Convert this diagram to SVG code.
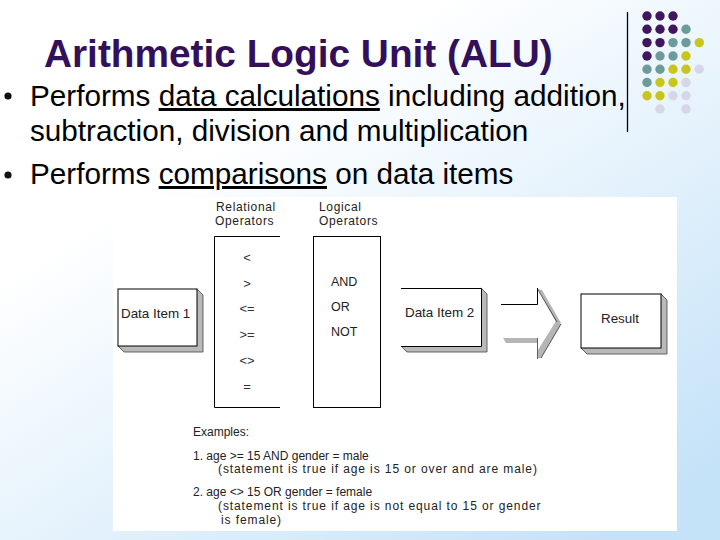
<svg xmlns="http://www.w3.org/2000/svg" width="720" height="540" viewBox="0 0 720 540">
<defs>
<linearGradient id="bg" x1="0" y1="0" x2="0.85" y2="1">
<stop offset="0.3" stop-color="#ffffff"/>
<stop offset="1" stop-color="#c4e2f8"/>
</linearGradient>
</defs>
<style>
.title{font-family:"Liberation Sans",Arial,sans-serif;font-weight:bold;font-size:38.8px;fill:#33105a}
.bul{font-family:"Liberation Sans",Arial,sans-serif;font-size:29.7px;fill:#000}
.sm{font-family:"Liberation Sans",Arial,sans-serif;font-size:13.4px;fill:#222}
.hd{font-family:"Liberation Sans",Arial,sans-serif;font-size:12px;fill:#222;letter-spacing:0.65px}
.lg{font-family:"Liberation Sans",Arial,sans-serif;font-size:12.5px;fill:#222}
.ex{font-family:"Liberation Sans",Arial,sans-serif;font-size:12px;fill:#222}
.st{font-family:"Liberation Sans",Arial,sans-serif;font-size:12px;fill:#222;letter-spacing:0.9px}
.op{font-family:"Liberation Sans",Arial,sans-serif;font-size:13px;fill:#333;text-anchor:middle}
.box{fill:#fff;stroke:#000;stroke-width:1}
.shadow{fill:#b9b9b9;stroke:#444;stroke-width:0.8}
.P{fill:#40175e}.T{fill:#6d9b9b}.Y{fill:#c9c61b}.L{fill:#d6d6e8}
</style>
<rect x="0" y="0" width="720" height="540" fill="url(#bg)"/>

<g id="dots">
<circle class="P" cx="647" cy="16" r="4.7"/><circle class="P" cx="660" cy="16" r="4.7"/><circle class="P" cx="673" cy="16" r="4.7"/>
<circle class="P" cx="647" cy="29.3" r="4.7"/><circle class="P" cx="660" cy="29.3" r="4.7"/><circle class="P" cx="673" cy="29.3" r="4.7"/><circle class="T" cx="686" cy="29.3" r="4.7"/>
<circle class="P" cx="647" cy="42.6" r="4.7"/><circle class="P" cx="660" cy="42.6" r="4.7"/><circle class="T" cx="673" cy="42.6" r="4.7"/><circle class="T" cx="686" cy="42.6" r="4.7"/><circle class="Y" cx="699.3" cy="42.6" r="4.7"/>
<circle class="P" cx="647" cy="56" r="4.7"/><circle class="T" cx="660" cy="56" r="4.7"/><circle class="T" cx="673" cy="56" r="4.7"/><circle class="Y" cx="686" cy="56" r="4.7"/>
<circle class="T" cx="647" cy="69.3" r="4.7"/><circle class="T" cx="660" cy="69.3" r="4.7"/><circle class="Y" cx="673" cy="69.3" r="4.7"/><circle class="Y" cx="686" cy="69.3" r="4.7"/><circle class="L" cx="699.3" cy="69.3" r="4.7"/>
<circle class="T" cx="647" cy="82.5" r="4.7"/><circle class="Y" cx="660" cy="82.5" r="4.7"/><circle class="Y" cx="673" cy="82.5" r="4.7"/><circle class="L" cx="686" cy="82.5" r="4.7"/>
<circle class="Y" cx="647" cy="95.8" r="4.7"/><circle class="Y" cx="660" cy="95.8" r="4.7"/><circle class="L" cx="673" cy="95.8" r="4.7"/><circle class="L" cx="686" cy="95.8" r="4.7"/>
<circle class="L" cx="660" cy="109" r="4.7"/><circle class="L" cx="686" cy="109" r="4.7"/>
</g>
<line id="divider" x1="627.5" y1="12" x2="627.5" y2="132" stroke="#000" stroke-width="1.3"/>

<g id="title"><text class="title" x="44" y="67">Arithmetic Logic Unit (ALU)</text></g>

<g id="bullets">
<circle cx="8" cy="96" r="3.6" fill="#111"/>
<circle cx="8" cy="175" r="3.6" fill="#111"/>
<text class="bul" x="30" y="106">Performs <tspan text-decoration="underline">data calculations</tspan> including addition,</text>
<text class="bul" x="30" y="141">subtraction, division and multiplication</text>
<text class="bul" x="30" y="184">Performs <tspan text-decoration="underline">comparisons</tspan> on data items</text>
</g>

<rect id="screenshot" x="113" y="197" width="564" height="334" fill="#fff"/>

<g id="node-data1">
<polygon class="shadow" points="197,289 203,295 203,352 124,352 118,346"/>
<rect class="box" x="118" y="289" width="79" height="57"/>
<text class="sm" x="121" y="318">Data Item 1</text>
</g>

<g id="node-relational">
<text class="hd" x="216" y="211">Relational</text>
<text class="hd" x="215" y="225">Operators</text>
<path d="M280,236.5 H214.5 V407.5 H280" fill="none" stroke="#000" stroke-width="1"/>
<text class="op" x="247" y="262">&lt;</text>
<text class="op" x="247" y="288">&gt;</text>
<text class="op" x="247" y="313">&lt;=</text>
<text class="op" x="247" y="339">&gt;=</text>
<text class="op" x="247" y="365">&lt;&gt;</text>
<text class="op" x="247" y="391">=</text>
</g>

<g id="node-logical">
<text class="hd" x="319" y="211">Logical</text>
<text class="hd" x="319" y="225">Operators</text>
<rect class="box" x="313.5" y="236.5" width="67" height="171"/>
<text class="lg" x="331" y="286">AND</text>
<text class="lg" x="331" y="311">OR</text>
<text class="lg" x="331" y="336">NOT</text>
</g>

<g id="node-data2">
<polygon class="shadow" points="481,288 487,294 487,352 407,352 401,346"/>
<path d="M401,288.5 H481.5 V346.5 H401" class="box"/>
<text class="sm" x="405" y="317">Data Item 2</text>
</g>

<g id="connectors">
<polygon points="501,304 537,304 537,288 560,323 537,359 537,343 501,343" fill="#fff"/>
<polygon points="503,338 537,338 537,343 506,343" fill="#b5b5b5"/>
<polygon points="538,289 542,290 561,323 557,324" fill="#b5b5b5"/>
<polygon points="556,321 561,324 541,358 538,358 538,350" fill="#b5b5b5"/>
<path d="M501,304.5 H537.5 V288" fill="none" stroke="#000" stroke-width="1"/>
<path d="M537.5,289 L557,322" fill="none" stroke="#333" stroke-width="0.8"/>
<path d="M561,324 L541,358 M537.5,338 V359" fill="none" stroke="#333" stroke-width="0.8"/>
</g>

<g id="node-result">
<polygon class="shadow" points="661,294 667,300 667,354 587,354 581,348"/>
<rect class="box" x="581" y="294" width="80" height="54"/>
<text class="sm" x="601" y="323">Result</text>
</g>

<g id="examples">
<text class="ex" x="193" y="436">Examples:</text>
<text class="ex" x="193" y="460">1. age &gt;= 15 AND gender = male</text>
<text class="st" x="218" y="473">(statement is true if age is 15 or over and are male)</text>
<text class="ex" x="193" y="496">2. age &lt;&gt; 15 OR gender = female</text>
<text class="st" x="218" y="510">(statement is true if age is not equal to 15 or gender</text>
<text class="st" x="221" y="524">is female)</text>
</g>
</svg>
